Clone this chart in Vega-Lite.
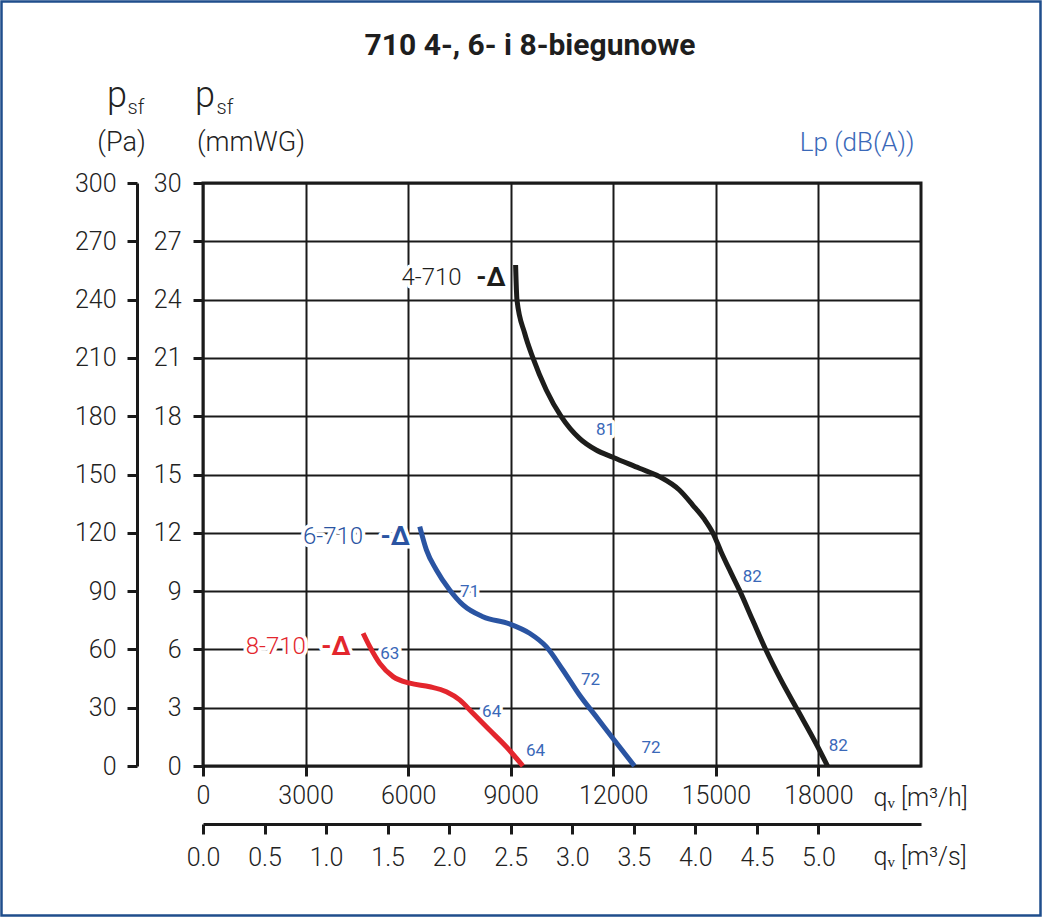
{
  "$schema": "https://vega.github.io/schema/vega-lite/v6.json",
  "width": 718,
  "height": 583,
  "autosize": "none",
  "padding": {"left": 203, "top": 183, "right": 124, "bottom": 154},
  "background": "white",
  "title": {
    "text": "710 4-, 6- i 8-biegunowe",
    "font": "Roboto",
    "fontSize": 30,
    "fontWeight": "bold",
    "color": "#1e1e1e",
    "anchor": "middle",
    "frame": "group",
    "dx": -32,
    "offset": -83,
    "baseline": "alphabetic"
  },
  "config": {
    "font": "Roboto",
    "view": {"stroke": "#1a1a1a", "strokeWidth": 3},
    "axis": {
      "labelFont": "Roboto",
      "labelFontSize": 25,
      "labelFontWeight": 300,
      "labelColor": "#222222",
      "labelFlush": false,
      "titleFont": "Roboto",
      "titleFontWeight": 300,
      "titleColor": "#222222",
      "titleAngle": 0,
      "tickColor": "#1a1a1a",
      "domainColor": "#1a1a1a",
      "gridColor": "#1a1a1a"
    }
  },
  "datasets": {
    "curves": [
      {"series": "4-710", "q": 9143, "p": 257.8},
      {"series": "4-710", "q": 9183, "p": 239.8},
      {"series": "4-710", "q": 9406, "p": 222.8},
      {"series": "4-710", "q": 9650, "p": 210},
      {"series": "4-710", "q": 10040, "p": 193.5},
      {"series": "4-710", "q": 10478, "p": 179.8},
      {"series": "4-710", "q": 11012, "p": 168.6},
      {"series": "4-710", "q": 11500, "p": 162.6},
      {"series": "4-710", "q": 11986, "p": 158.9},
      {"series": "4-710", "q": 12765, "p": 153.2},
      {"series": "4-710", "q": 13349, "p": 148.9},
      {"series": "4-710", "q": 13933, "p": 142},
      {"series": "4-710", "q": 14323, "p": 134.3},
      {"series": "4-710", "q": 14663, "p": 127},
      {"series": "4-710", "q": 14926, "p": 119.5},
      {"series": "4-710", "q": 15151, "p": 110.3},
      {"series": "4-710", "q": 15443, "p": 99.4},
      {"series": "4-710", "q": 15686, "p": 90.6},
      {"series": "4-710", "q": 16075, "p": 75.1},
      {"series": "4-710", "q": 16465, "p": 59.7},
      {"series": "4-710", "q": 16903, "p": 44.3},
      {"series": "4-710", "q": 17390, "p": 28.8},
      {"series": "4-710", "q": 17926, "p": 11.7},
      {"series": "4-710", "q": 18266, "p": 0},
      {"series": "6-710", "q": 6339, "p": 123.2},
      {"series": "6-710", "q": 6534, "p": 111.2},
      {"series": "6-710", "q": 6826, "p": 100.9},
      {"series": "6-710", "q": 7215, "p": 90.6},
      {"series": "6-710", "q": 7604, "p": 82.9},
      {"series": "6-710", "q": 8188, "p": 76.8},
      {"series": "6-710", "q": 8968, "p": 73.1},
      {"series": "6-710", "q": 9552, "p": 68.3},
      {"series": "6-710", "q": 10039, "p": 61.4},
      {"series": "6-710", "q": 10526, "p": 49.4},
      {"series": "6-710", "q": 11012, "p": 36.5},
      {"series": "6-710", "q": 11500, "p": 25.4},
      {"series": "6-710", "q": 11986, "p": 14.3},
      {"series": "6-710", "q": 12619, "p": 0},
      {"series": "8-710", "q": 4683, "p": 68.3},
      {"series": "8-710", "q": 4878, "p": 61.4},
      {"series": "8-710", "q": 5170, "p": 52.8},
      {"series": "8-710", "q": 5559, "p": 46},
      {"series": "8-710", "q": 6047, "p": 42.6},
      {"series": "8-710", "q": 6631, "p": 40.8},
      {"series": "8-710", "q": 7118, "p": 38.2},
      {"series": "8-710", "q": 7507, "p": 34},
      {"series": "8-710", "q": 7896, "p": 27.1},
      {"series": "8-710", "q": 8383, "p": 18.5},
      {"series": "8-710", "q": 8871, "p": 9.9},
      {"series": "8-710", "q": 9356, "p": 0}
    ],
    "names": [
      {"series": "4-710", "q": 7565, "p": 251},
      {"series": "6-710", "q": 4683, "p": 118},
      {"series": "8-710", "q": 3009, "p": 61.4}
    ],
    "deltas": [
      {"series": "4-710", "q": 8851, "p": 251},
      {"series": "6-710", "q": 6047, "p": 118},
      {"series": "8-710", "q": 4315, "p": 61.4}
    ],
    "levels": [
      {"series": "4-710", "q": 11771, "p": 172.9, "lp": 81},
      {"series": "4-710", "q": 16066, "p": 97.1, "lp": 82},
      {"series": "4-710", "q": 18578, "p": 10.4, "lp": 82},
      {"series": "6-710", "q": 7799, "p": 89.7, "lp": 71},
      {"series": "6-710", "q": 11333, "p": 44.3, "lp": 72},
      {"series": "6-710", "q": 13106, "p": 9.1, "lp": 72},
      {"series": "8-710", "q": 5462, "p": 57.6, "lp": 63},
      {"series": "8-710", "q": 8442, "p": 27.9, "lp": 64},
      {"series": "8-710", "q": 9727, "p": 7.9, "lp": 64}
    ],
    "frame": [
      {"q": 0, "p": 0, "v": 0},
      {"q": 0, "p": 0, "v": 1}
    ]
  },
  "resolve": {"axis": {"x": "independent", "y": "independent"}},
  "layer": [
    {
      "data": {"name": "names"},
      "mark": {"type": "text", "align": "right", "baseline": "middle", "fontSize": 24, "fontWeight": 300, "stroke": "white", "strokeWidth": 7, "strokeJoin": "round"},
      "encoding": {
        "x": {
          "field": "q", "type": "quantitative",
          "scale": {"domain": [0, 21000], "nice": false},
          "axis": {
            "orient": "bottom", "offset": 58,
            "values": [0, 1800, 3600, 5400, 7200, 9000, 10800, 12600, 14400, 16200, 18000],
            "labelExpr": "format(datum.value / 3600, '.1f')",
            "grid": false, "domain": true, "domainWidth": 3,
            "ticks": true, "tickSize": 10, "tickWidth": 3,
            "labelPadding": 11,
            "title": "qᵥ [m³/s]", "titleFontSize": 25,
            "titleX": 670, "titleY": 32, "titleAlign": "left", "titleBaseline": "middle"
          }
        },
        "y": {
          "field": "p", "type": "quantitative",
          "scale": {"domain": [0, 300], "nice": false},
          "axis": {
            "orient": "left", "offset": 66,
            "values": [0, 30, 60, 90, 120, 150, 180, 210, 240, 270, 300],
            "format": "d",
            "grid": false, "domain": true, "domainWidth": 3,
            "ticks": true, "tickSize": 10, "tickWidth": 3,
            "labelPadding": 11,
            "title": "(Pa)", "titleFontSize": 27,
            "titleX": -16, "titleY": -41, "titleAlign": "center", "titleBaseline": "middle"
          }
        },
        "text": {"field": "series"}
      }
    },
    {
      "data": {"name": "deltas"},
      "mark": {"type": "text", "align": "right", "baseline": "middle", "fontSize": 26, "fontWeight": "bold", "stroke": "white", "strokeWidth": 7, "strokeJoin": "round"},
      "encoding": {
        "x": {
          "field": "q", "type": "quantitative",
          "axis": {
            "orient": "top", "labels": false, "ticks": false, "domain": false, "grid": false,
            "title": "Lp (dB(A))", "titleFontSize": 26, "titleColor": "#3a68b8",
            "titleX": 711, "titleY": -41, "titleAlign": "right", "titleBaseline": "middle"
          }
        },
        "y": {
          "field": "p", "type": "quantitative",
          "axis": {
            "orient": "left", "offset": 66, "labels": false, "ticks": false, "domain": false, "grid": false,
            "title": "p", "titleFontSize": 36,
            "titleX": -30.5, "titleY": -77, "titleAlign": "left", "titleBaseline": "alphabetic"
          }
        },
        "text": {"value": "-Δ"}
      }
    },
    {
      "data": {"name": "levels"},
      "mark": {"type": "text", "align": "center", "baseline": "middle", "fontSize": 17, "stroke": "white", "strokeWidth": 7, "strokeJoin": "round"},
      "encoding": {
        "x": {
          "field": "q", "type": "quantitative",
          "axis": {
            "orient": "top", "labels": false, "ticks": false, "domain": false, "grid": false,
            "title": "p", "titleFontSize": 36,
            "titleX": -8.5, "titleY": -77, "titleAlign": "left", "titleBaseline": "alphabetic"
          }
        },
        "y": {
          "field": "p", "type": "quantitative",
          "axis": {
            "orient": "left", "offset": 66, "labels": false, "ticks": false, "domain": false, "grid": false,
            "title": "sf", "titleFontSize": 20,
            "titleX": -10, "titleY": -70, "titleAlign": "left", "titleBaseline": "alphabetic"
          }
        },
        "text": {"field": "lp"}
      }
    },
    {
      "data": {"name": "curves"},
      "mark": {"type": "line", "interpolate": "monotone", "strokeWidth": 5, "strokeCap": "butt"},
      "encoding": {
        "x": {
          "field": "q", "type": "quantitative",
          "axis": {
            "orient": "bottom",
            "values": [0, 3000, 6000, 9000, 12000, 15000, 18000],
            "format": "d",
            "grid": true, "gridWidth": 2,
            "domain": false,
            "ticks": true, "tickSize": 10, "tickWidth": 3,
            "labelPadding": 7,
            "title": "qᵥ [m³/h]", "titleFontSize": 25,
            "titleX": 670, "titleY": 31, "titleAlign": "left", "titleBaseline": "middle"
          }
        },
        "y": {
          "field": "p", "type": "quantitative",
          "axis": {
            "orient": "left",
            "values": [0, 30, 60, 90, 120, 150, 180, 210, 240, 270, 300],
            "labelExpr": "format(datum.value / 10, 'd')",
            "grid": true, "gridWidth": 2,
            "domain": false,
            "ticks": true, "tickSize": 10, "tickWidth": 3,
            "labelPadding": 12,
            "title": "(mmWG)", "titleFontSize": 27,
            "titleX": 47.5, "titleY": -41, "titleAlign": "center", "titleBaseline": "middle"
          }
        },
        "color": {
          "field": "series", "type": "nominal",
          "scale": {"domain": ["4-710", "6-710", "8-710"], "range": ["#1d1d1b", "#2a54a2", "#e3262d"]},
          "legend": null
        },
        "detail": {"field": "series"}
      }
    },
    {
      "data": {"name": "names"},
      "mark": {"type": "text", "align": "right", "baseline": "middle", "fontSize": 24, "fontWeight": 300},
      "encoding": {
        "x": {
          "field": "q", "type": "quantitative",
          "axis": {
            "orient": "top", "labels": false, "ticks": false, "domain": false, "grid": false,
            "title": "sf", "titleFontSize": 20,
            "titleX": 13, "titleY": -70, "titleAlign": "left", "titleBaseline": "alphabetic"
          }
        },
        "y": {"field": "p", "type": "quantitative", "axis": null},
        "color": {"field": "series", "type": "nominal", "legend": null},
        "text": {"field": "series"}
      }
    },
    {
      "data": {"name": "deltas"},
      "mark": {"type": "text", "align": "right", "baseline": "middle", "fontSize": 26, "fontWeight": "bold"},
      "encoding": {
        "x": {"field": "q", "type": "quantitative", "axis": null},
        "y": {"field": "p", "type": "quantitative", "axis": null},
        "color": {"field": "series", "type": "nominal", "legend": null},
        "text": {"value": "-Δ"}
      }
    },
    {
      "data": {"name": "levels"},
      "mark": {"type": "text", "align": "center", "baseline": "middle", "fontSize": 17, "color": "#3a68b8"},
      "encoding": {
        "x": {"field": "q", "type": "quantitative", "axis": null},
        "y": {"field": "p", "type": "quantitative", "axis": null},
        "text": {"field": "lp"}
      }
    },
    {
      "data": {"name": "frame"},
      "mark": {"type": "point", "opacity": 0},
      "encoding": {
        "x": {"field": "q", "type": "quantitative", "axis": null},
        "y": {"field": "p", "type": "quantitative", "axis": null},
        "fill": {
          "field": "v", "type": "quantitative",
          "scale": {"range": ["rgba(255,255,255,0)", "rgba(255,255,255,0)"]},
          "legend": {
            "orient": "none", "legendX": -201.5, "legendY": -181.5,
            "direction": "horizontal", "gradientLength": 1039, "gradientThickness": 914,
            "gradientStrokeColor": "#1f4e8c", "gradientStrokeWidth": 2.5,
            "labelExpr": "''", "labelOpacity": 0, "labelFontSize": 1,
            "title": null, "padding": 0
          }
        }
      }
    }
  ]
}
